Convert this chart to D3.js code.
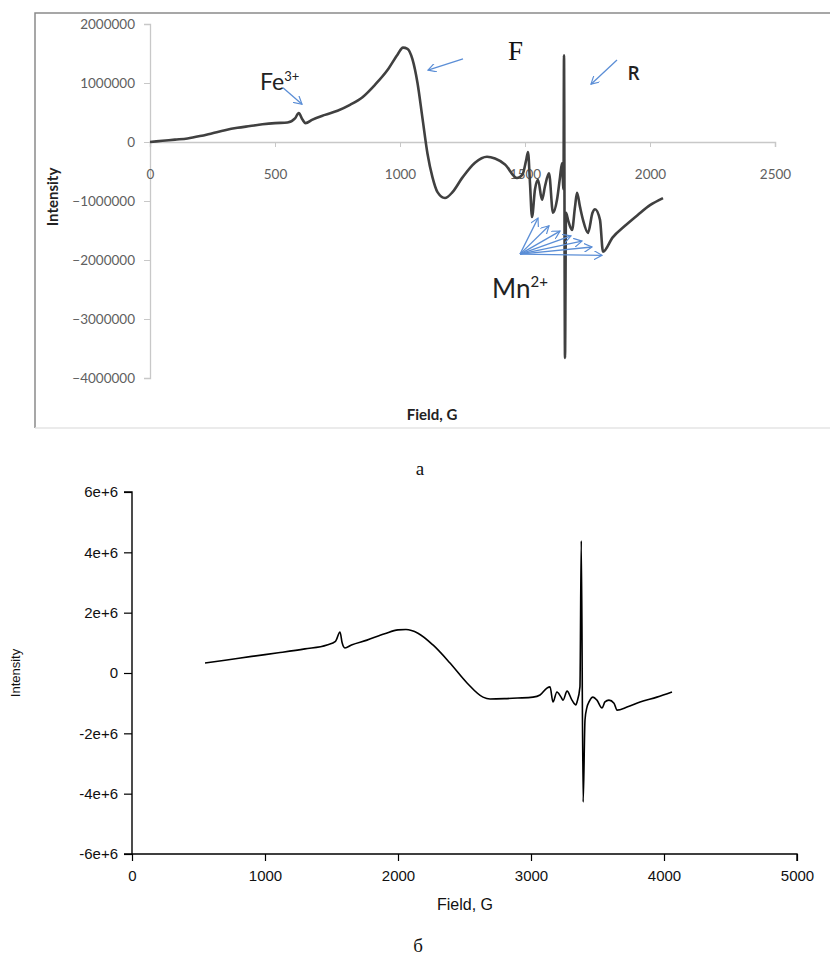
<!DOCTYPE html>
<html><head><meta charset="utf-8">
<script src="https://cdn.jsdelivr.net/npm/d3@7"></script>
<style>body{margin:0;background:#fff}svg{display:block}</style>
</head><body>
<svg id="c" width="830" height="957"></svg>
<script>
// ---- Chart a (top) ----
const topField = [0,50,100,150,200,250,300,350,400,450,500,550,580,595,610,622,650,700,750,800,850,900,950,990,1012,1030,1050,1070,1090,1110,1130,1150,1180,1210,1250,1300,1348,1380,1420,1468,1490,1505,1512,1520,1528,1540,1552,1568,1580,1596,1612,1628,1640,1648,1654,1656,1660,1664,1672,1688,1700,1708,1720,1732,1752,1770,1780,1800,1812,1850,1900,1950,2000,2052];
const topIntensity = [0,0.02,0.04,0.06,0.1,0.15,0.2,0.24,0.27,0.3,0.32,0.33,0.4,0.49,0.38,0.32,0.38,0.46,0.53,0.63,0.76,0.97,1.22,1.48,1.6,1.58,1.4,1.0,0.4,-0.2,-0.6,-0.85,-0.95,-0.85,-0.6,-0.35,-0.25,-0.28,-0.38,-0.61,-0.55,-0.3,-0.17,-0.7,-1.27,-0.8,-0.64,-0.98,-0.75,-0.53,-1.2,-0.98,-0.6,-0.36,-0.8,1.47,-3.66,-1.2,-1.32,-1.49,-1.1,-0.86,-1.1,-1.32,-1.54,-1.2,-1.14,-1.32,-1.86,-1.62,-1.42,-1.24,-1.07,-0.95].map(v=>v*1e6);
const topXTicks = [0,500,1000,1500,2000,2500];
const topYTicks = [2000000,1000000,0,-1000000,-2000000,-3000000,-4000000];
const mnTargetsField = [1552,1596,1640,1684,1728,1768,1808];
const mnTargetsInt = [-1.29,-1.42,-1.51,-1.59,-1.68,-1.78,-1.92].map(v=>v*1e6);

// ---- Chart б (bottom) ----
const botField = [549,700,900,1100,1300,1466,1530,1564,1580,1601,1650,1767,1900,2000,2060,2150,2263,2391,2519,2639,2692,2800,2900,3015,3068,3120,3143,3165,3195,3226,3241,3271,3308,3338,3346,3368,3378,3392,3406,3421,3436,3466,3496,3534,3556,3586,3624,3647,3722,3820,3947,4060];
const botIntensity = [0.33,0.42,0.55,0.67,0.8,0.93,1.05,1.36,1.0,0.83,0.93,1.09,1.3,1.43,1.44,1.32,0.93,0.33,-0.33,-0.8,-0.86,-0.85,-0.83,-0.8,-0.73,-0.5,-0.46,-0.96,-0.63,-0.8,-0.9,-0.6,-0.9,-1.06,-0.96,-0.46,4.38,-4.28,-1.56,-1.13,-0.96,-0.8,-0.9,-1.16,-0.96,-0.9,-1.0,-1.23,-1.13,-0.96,-0.8,-0.63].map(v=>v*1e6);
const botXTicks = [0,1000,2000,3000,4000,5000];
const botYTicks = [6e6,4e6,2e6,0,-2e6,-4e6,-6e6];
const botYTickLabels = ["6e+6","4e+6","2e+6","0","-2e+6","-4e+6","-6e+6"];

const svg = d3.select("#c");
const blue = "#5b8ed6";

// arrow marker
const defs = svg.append("defs");
defs.append("marker").attr("id","ah").attr("viewBox","0 0 10 10").attr("refX",9).attr("refY",5)
  .attr("markerWidth",9).attr("markerHeight",9).attr("orient","auto").attr("markerUnits","userSpaceOnUse")
  .append("path").attr("d","M0,0 L9,5 L0,10").attr("fill","none").attr("stroke",blue).attr("stroke-width",1.3);

// ===== TOP =====
const g1 = svg.append("g");
g1.append("path").attr("d","M35,428 L35,13 L840,13").attr("fill","none").attr("stroke","#8a8a8a").attr("stroke-width",1.5);
g1.append("line").attr("x1",35).attr("x2",840).attr("y1",428).attr("y2",428).attr("stroke","#e4e4e4").attr("stroke-width",1.5);

const x1 = d3.scaleLinear().domain([0,2500]).range([150,775]);
const y1 = d3.scaleLinear().domain([-4e6,2e6]).range([378,24]);
const tf = "Lato, 'Open Sans', sans-serif";

const ya1 = g1.append("g").attr("transform","translate(150,0)")
  .call(d3.axisLeft(y1).tickValues(topYTicks).tickSize(6).tickPadding(9).tickFormat(d3.format("d")));
ya1.select(".domain").attr("stroke","#c8c8c8").attr("stroke-width",1.3);
ya1.selectAll(".tick line").attr("stroke","#c8c8c8");
ya1.selectAll("text").attr("fill","#606060").style("font-family",tf).style("font-size","13.5px");

const xa1 = g1.append("g").attr("transform",`translate(0,${y1(0)})`)
  .call(d3.axisBottom(x1).tickValues(topXTicks).tickSize(5).tickPadding(22).tickFormat(d3.format("d")));
xa1.select(".domain").attr("stroke","#c8c8c8").attr("stroke-width",1.5);
xa1.selectAll(".tick line").attr("stroke","#c8c8c8");
xa1.selectAll("text").attr("fill","#606060").style("font-family",tf).style("font-size","13.5px");

const topData = topField.map((f,i)=>[f,topIntensity[i]]);
g1.append("path").datum(topData).attr("fill","none").attr("stroke","#404040").attr("stroke-width",2.6)
  .attr("stroke-linejoin","round")
  .attr("d", d3.line().x(d=>x1(d[0])).y(d=>y1(d[1])).curve(d3.curveMonotoneX));

g1.append("text").attr("transform",`translate(58,${197}) rotate(-90)`).attr("text-anchor","middle")
  .style("font-family",tf).style("font-weight","bold").style("font-size","15px").attr("fill","#222").text("Intensity");
g1.append("text").attr("x",432).attr("y",420).attr("text-anchor","middle")
  .style("font-family",tf).style("font-weight","bold").style("font-size","15px").attr("fill","#222").text("Field, G");

function arrow(g,f0,v0,f1,v1){
  g.append("line").attr("x1",x1(f0)).attr("y1",y1(v0)).attr("x2",x1(f1)).attr("y2",y1(v1))
    .attr("stroke",blue).attr("stroke-width",1.3).attr("marker-end","url(#ah)");
}
const fe = g1.append("text").attr("x",x1(440)).attr("y",y1(0.88e6)).style("font-family",tf).style("font-size","23px").attr("fill","#222");
fe.append("tspan").text("Fe");
fe.append("tspan").attr("dy",-9).style("font-size","13px").text("3+");
arrow(g1,532,0.92e6,608,0.64e6);

g1.append("text").attr("x",x1(1432)).attr("y",y1(1.39e6)).style("font-family","'Liberation Serif','Times New Roman',serif").style("font-size","27px").attr("fill","#111").text("F");
arrow(g1,1252,1.41e6,1112,1.22e6);

g1.append("text").attr("x",x1(1910)).attr("y",y1(1.05e6)).style("font-family","'Open Sans',sans-serif").style("font-weight","600").style("font-size","19px").attr("fill","#222").text("R");
arrow(g1,1868,1.39e6,1764,0.98e6);

const mn = g1.append("text").attr("x",x1(1368)).attr("y",y1(-2.64e6)).style("font-family",tf).style("font-size","26px").attr("fill","#222");
mn.append("tspan").text("Mn");
mn.append("tspan").attr("dy",-11).style("font-size","15px").text("2+");
mnTargetsField.forEach((f,i)=>arrow(g1,1480,-1.9e6,f,mnTargetsInt[i]));

svg.append("text").attr("x",420).attr("y",475).attr("text-anchor","middle")
  .style("font-family","'Liberation Serif','Times New Roman',serif").style("font-size","19px").attr("fill","#111").text("a");

// ===== BOTTOM =====
const g2 = svg.append("g");
const x2 = d3.scaleLinear().domain([0,5000]).range([132,797]);
const y2 = d3.scaleLinear().domain([-6e6,6e6]).range([854,492]);
const af = "'Liberation Sans', Arial, sans-serif";

const ya2 = g2.append("g").attr("transform","translate(132,0)")
  .call(d3.axisLeft(y2).tickValues(botYTicks).tickSize(8).tickPadding(6).tickFormat((d,i)=>botYTickLabels[i]));
ya2.select(".domain").attr("stroke","#000").attr("stroke-width",1.4).attr("d","M-8,854H0V492H-8");
ya2.selectAll(".tick line").attr("stroke","#000").attr("stroke-width",1.2);
ya2.selectAll("text").attr("fill","#111").style("font-family",af).style("font-size","15px");

const xa2 = g2.append("g").attr("transform","translate(0,854)")
  .call(d3.axisBottom(x2).tickValues(botXTicks).tickSize(7).tickPadding(9).tickFormat(d3.format("d")));
xa2.select(".domain").attr("stroke","#000").attr("stroke-width",1.4).attr("d","M132,0H797V7");
xa2.selectAll(".tick line").attr("stroke","#000").attr("stroke-width",1.2);
xa2.selectAll("text").attr("fill","#111").style("font-family",af).style("font-size","15px");

const botData = botField.map((f,i)=>[f,botIntensity[i]]);
g2.append("path").datum(botData).attr("fill","none").attr("stroke","#000").attr("stroke-width",1.6)
  .attr("stroke-linejoin","round")
  .attr("d", d3.line().x(d=>x2(d[0])).y(d=>y2(d[1])).curve(d3.curveMonotoneX));

g2.append("text").attr("transform","translate(20,673) rotate(-90)").attr("text-anchor","middle")
  .style("font-family",af).style("font-size","13px").attr("fill","#111").text("Intensity");
g2.append("text").attr("x",465).attr("y",910).attr("text-anchor","middle")
  .style("font-family",af).style("font-size","16px").attr("fill","#111").text("Field, G");

svg.append("text").attr("x",418).attr("y",952).attr("text-anchor","middle")
  .style("font-family","'Liberation Serif','Times New Roman',serif").style("font-size","19px").attr("fill","#111").text("б");
</script>
</body></html>
